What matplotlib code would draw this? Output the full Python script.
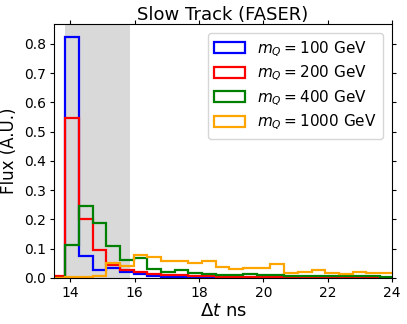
import numpy as np
import matplotlib
matplotlib.use("Agg")
import matplotlib.pyplot as plt

edges = 13.0 + 0.425 * np.arange(28)

flux_100 = [0, 0.003, 0.825, 0.076, 0.027, 0.035, 0.020, 0.012, 0.007, 0.005, 0.004, 0.003,
            0.002, 0.002, 0.001, 0.001, 0.001, 0.001, 0.0, 0.0, 0.0, 0.0, 0.0, 0.0, 0.0, 0.0, 0.0]
flux_200 = [0, 0.006, 0.548, 0.200, 0.096, 0.044, 0.028, 0.020, 0.015, 0.011, 0.009, 0.007,
            0.006, 0.005, 0.004, 0.004, 0.003, 0.003, 0.003, 0.002, 0.002, 0.002, 0.002, 0.001,
            0.001, 0.001, 0.001]
flux_400 = [0, 0.001, 0.113, 0.247, 0.187, 0.109, 0.063, 0.070, 0.030, 0.022, 0.026, 0.016,
            0.013, 0.010, 0.010, 0.015, 0.010, 0.009, 0.008, 0.007, 0.007, 0.006, 0.006, 0.006,
            0.006, 0.005, 0.005]
flux_1000 = [0, 0.001, 0.002, 0.003, 0.008, 0.052, 0.040, 0.079, 0.072, 0.059, 0.057, 0.052,
             0.059, 0.039, 0.031, 0.033, 0.034, 0.047, 0.016, 0.019, 0.027, 0.018, 0.013, 0.019,
             0.016, 0.016, 0.016]

series = [(flux_100, 'blue', r'$m_Q = 100$ GeV'),
          (flux_200, 'red', r'$m_Q = 200$ GeV'),
          (flux_400, 'green', r'$m_Q = 400$ GeV'),
          (flux_1000, 'orange', r'$m_Q = 1000$ GeV')]

fig = plt.figure(figsize=(4.07, 3.24), dpi=100)
ax = fig.add_axes([0.133, 0.142, 0.83, 0.784])

ax.axvspan(13.85, 15.85, color='#d9d9d9', lw=0, zorder=0)

for vals, c, lab in series:
    ax.hist(edges[:-1], bins=edges, weights=vals, histtype='step', color=c, lw=1.6, label=lab)

ax.set_xlim(13.5, 24)
ax.set_ylim(0, 0.868)
ax.set_xticks([14, 16, 18, 20, 22, 24])
ax.set_yticks(np.arange(0, 0.81, 0.1))
ax.tick_params(labelsize=10, top=True, right=True, length=3, pad=2.5)
ax.set_xlabel(r'$\Delta t$ ns', fontsize=13, labelpad=2)
ax.set_ylabel('Flux (A.U.)', fontsize=12, labelpad=5)
ax.set_title('Slow Track (FASER)', fontsize=13, pad=3)
ax.legend(loc='upper right', fontsize=11, labelspacing=0.35, borderaxespad=0.6)

fig.savefig('out.png', dpi=100)
